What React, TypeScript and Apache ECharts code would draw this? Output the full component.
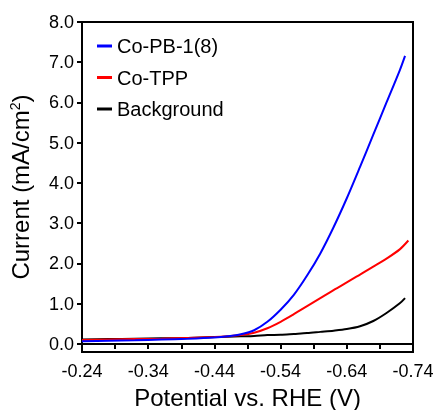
import React, { useEffect, useRef } from "react";
import * as echarts from "echarts";

const potential = [-0.24, -0.28, -0.32, -0.36, -0.40, -0.44, -0.46, -0.48, -0.50, -0.52, -0.54, -0.56, -0.58, -0.60, -0.62, -0.64, -0.66, -0.68, -0.70, -0.72];
const endPotential = [-0.728, -0.733, -0.728];
const coPB = [0.07, 0.08, 0.09, 0.11, 0.13, 0.16, 0.19, 0.24, 0.34, 0.55, 0.85, 1.22, 1.70, 2.25, 2.90, 3.62, 4.40, 5.20, 6.00, 6.80, 7.16];
const coTPP = [0.10, 0.11, 0.12, 0.13, 0.15, 0.17, 0.19, 0.22, 0.28, 0.39, 0.55, 0.74, 0.94, 1.14, 1.34, 1.53, 1.72, 1.92, 2.12, 2.35, 2.57];
const background = [0.11, 0.12, 0.13, 0.14, 0.15, 0.17, 0.18, 0.19, 0.20, 0.22, 0.23, 0.25, 0.27, 0.30, 0.33, 0.37, 0.44, 0.57, 0.77, 1.01, 1.14];
const seriesNames = ["Co-PB-1(8)", "Co-TPP", "Background"];
const seriesColors = ["#0000ff", "#ff0000", "#000000"];
const yTicks = [0, 1, 2, 3, 4, 5, 6, 7, 8];
const xLabel = "Potential vs. RHE (V)";
const yLabel = "Current (mA/cm{sup|2})";

const font = "'Liberation Sans', Arial, sans-serif";

export default function App() {
  const ref = useRef<HTMLDivElement>(null);
  useEffect(() => {
    if (!ref.current) return;
    const chart = echarts.init(ref.current, null, { renderer: "svg" });
    const values = [coPB, coTPP, background];
    chart.setOption({
      animation: false,
      grid: {
        left: 82,
        right: 22,
        top: 22,
        bottom: 58,
        containLabel: false,
        outerBoundsMode: "none",
        show: true,
        borderColor: "#000",
        borderWidth: 2,
      },
      legend: {
        orient: "vertical",
        left: 97,
        top: 36,
        padding: 0,
        itemWidth: 15,
        itemHeight: 3,
        itemGap: 11.5,
        icon: "rect",
        textStyle: { fontFamily: font, fontSize: 20, color: "#000" },
        data: seriesNames,
      },
      xAxis: {
        type: "value",
        inverse: true,
        min: -0.74,
        max: -0.24,
        interval: 0.1,
        name: xLabel,
        nameLocation: "middle",
        nameGap: 33,
        nameTextStyle: { fontFamily: font, fontSize: 24, color: "#000" },
        axisLine: { show: true, lineStyle: { color: "#000", width: 2 } },
        axisTick: { show: true, inside: false, length: 5, lineStyle: { color: "#000", width: 2 } },
        minorTick: { show: true, splitNumber: 2, length: 5, lineStyle: { color: "#000", width: 2 } },
        splitLine: { show: false },
        axisLabel: {
          fontFamily: font,
          fontSize: 18,
          color: "#000",
          margin: 10,
          formatter: (v: number) => v.toFixed(2),
        },
      },
      yAxis: {
        type: "value",
        min: -0.2,
        max: 8,
        name: yLabel,
        nameLocation: "middle",
        nameRotate: 90,
        nameGap: 50,
        nameTextStyle: {
          fontFamily: font,
          fontSize: 24,
          color: "#000",
          rich: {
            sup: { fontFamily: font, fontSize: 14, color: "#000", verticalAlign: "top", padding: [0, 0, 10, 0] },
          },
        },
        axisLine: { show: true, lineStyle: { color: "#000", width: 2 } },
        axisTick: { show: true, inside: false, length: 5, customValues: yTicks, lineStyle: { color: "#000", width: 2 } },
        splitLine: { show: false },
        axisLabel: {
          fontFamily: font,
          fontSize: 18,
          color: "#000",
          margin: 8,
          customValues: yTicks,
          formatter: (v: number) => v.toFixed(1),
        },
      },
      series: values.map((vals, i) => ({
        name: seriesNames[i],
        type: "line",
        smooth: 0.3,
        showSymbol: false,
        symbol: "none",
        lineStyle: { color: seriesColors[i], width: 2 },
        itemStyle: { color: seriesColors[i] },
        data: [...potential, endPotential[i]].map((p, j) => [p, vals[j]]),
        z: 3 - i,
      })),
    });
    return () => chart.dispose();
  }, []);
  return <div ref={ref} style={{ position: "fixed", left: 0, top: 0, width: 435, height: 410 }} />;
}
